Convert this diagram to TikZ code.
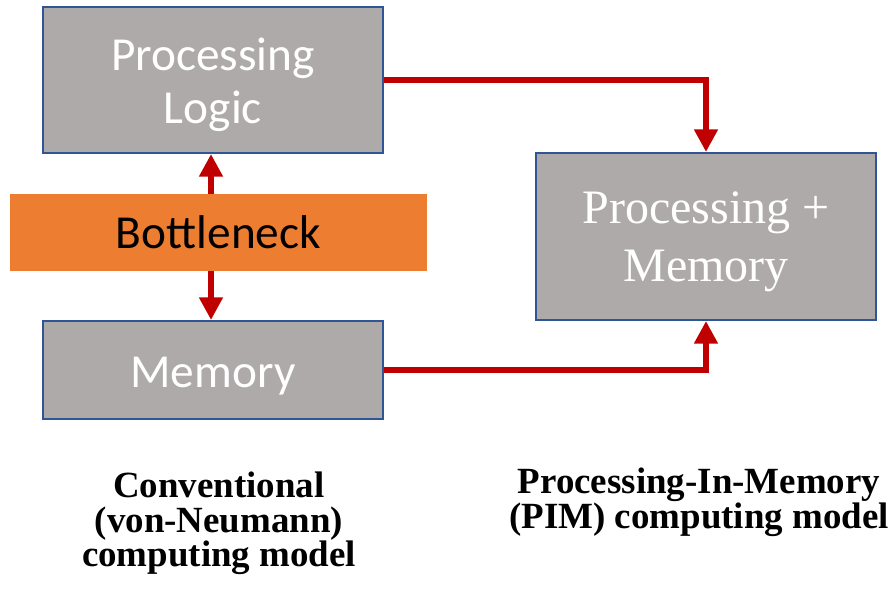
\documentclass[tikz,border=0pt]{standalone}
\usepackage{fontspec}
\newfontfamily\calfont{Carlito}
\newfontfamily\tnrfont{Liberation Serif}
\usetikzlibrary{arrows.meta}
\definecolor{boxgray}{HTML}{AEAAAA}
\definecolor{boxblue}{HTML}{2F5597}
\definecolor{bnorange}{HTML}{ED7D31}
\definecolor{arrred}{HTML}{C00000}
\tikzset{
  graybox/.style={draw=boxblue, line width=1.5pt, fill=boxgray, inner sep=0pt},
  boxtext/.style={text=white, inner sep=0pt, align=center},
  bnbox/.style={fill=bnorange, text=black, inner sep=0pt, minimum width=312.75pt, minimum height=57.75pt,
    font=\calfont\fontsize{35.5}{40}\selectfont},
  conn/.style={draw=arrred, line width=4.5pt, -{Triangle[width=17pt,length=17pt]}},
  dconn/.style={draw=arrred, line width=4.5pt, {Triangle[width=17pt,length=17pt]}-{Triangle[width=17pt,length=17pt]}},
  caption/.style={align=center, text=black, font=\tnrfont\bfseries\fontsize{27.7}{25.9}\selectfont}
}
\begin{document}
\begin{tikzpicture}[x=0.75pt,y=-0.75pt]
\useasboundingbox (0,0) rectangle (896,592);
\node[graybox, minimum width=255pt, minimum height=109.5pt] (pl) at (213,80) {};
\node[boxtext, font=\calfont\fontsize{35.5}{39.75}\selectfont] (pltext) at (213,85) {Processing\\Logic};
\node[graybox, minimum width=255pt, minimum height=73.5pt] (mem) at (213,370) {};
\node[boxtext, font=\calfont\fontsize{35.5}{39.75}\selectfont] (memtext) at (213,376) {Memory};
\node[graybox, minimum width=255pt, minimum height=125.25pt] (pim) at (706,236.5) {};
\node[boxtext, font=\tnrfont\fontsize{36}{43.5}\selectfont] (pimtext) at (706,242) {Processing +\\Memory};
\draw[dconn] ([xshift=-1.5pt]pl.south) -- ([xshift=-1.5pt]mem.north);
\node[bnbox] (bn) at (218.5,232.5) {Bottleneck};
\draw[conn] (pl.east) -| (pim.north);
\draw[conn] (mem.east) -| (pim.south);
\node[caption] (capl) at (219,523.5) {Conventional\\(von-Neumann)\\computing model};
\node[caption] (capr) at (699,502.5) {Processing-In-Memory\\(PIM) computing model};
\end{tikzpicture}
\end{document}
